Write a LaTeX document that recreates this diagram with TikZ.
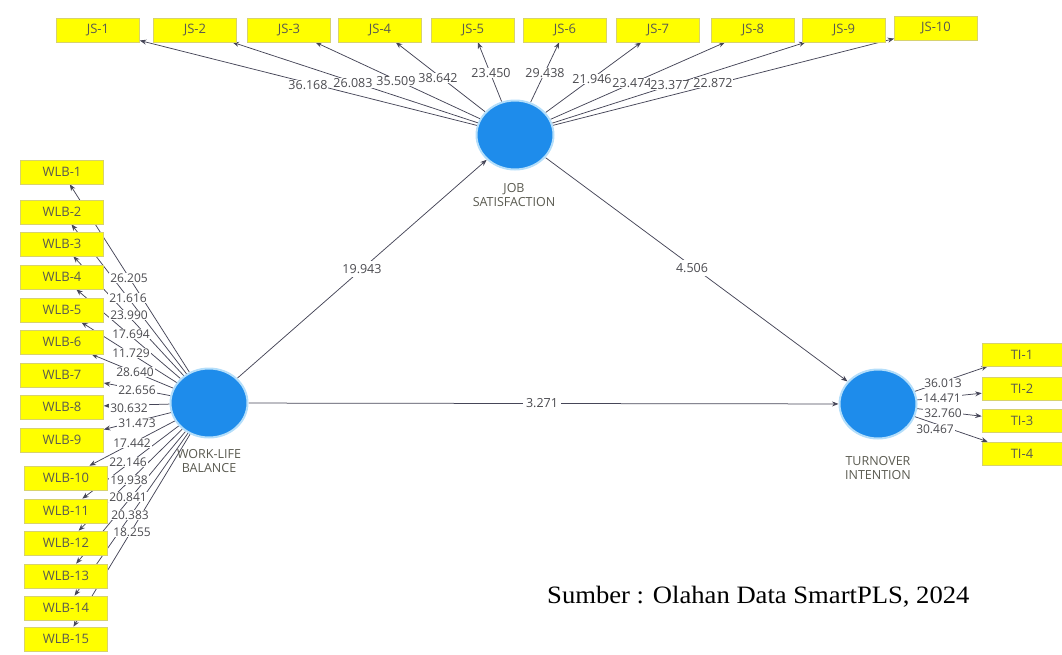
\documentclass[tikz,border=0pt]{standalone}
\usepackage{fontspec}
\usepackage{graphicx}
\setmainfont{Open Sans}
\newfontfamily\capfont{Liberation Serif}
\usetikzlibrary{shapes.geometric,arrows.meta}

\definecolor{lvblue}{RGB}{30,140,235}
\definecolor{lvglow}{RGB}{180,222,250}
\definecolor{indfill}{RGB}{255,255,0}
\definecolor{indedge}{RGB}{215,210,110}
\definecolor{indtext}{RGB}{90,90,80}
\definecolor{edgecol}{RGB}{70,70,88}
\definecolor{numtext}{RGB}{75,75,80}

\pgfdeclarelayer{lines}
\pgfsetlayers{lines,main}

\begin{document}
\begin{tikzpicture}[x=1pt,y=-1pt,
  ind/.style={rectangle, fill=indfill, draw=indedge, line width=0.6pt,
    minimum width=83pt, minimum height=24pt, inner sep=0pt, text=indtext,
    font=\fontsize{13}{15}\selectfont},
  lv/.style={ellipse, fill=lvblue, draw=lvglow, line width=2pt,
    minimum width=77pt, minimum height=69pt, inner sep=0pt},
  lvname/.style={align=center, text=indtext, inner sep=0pt,
    font=\fontsize{12.5}{14.5}\selectfont},
  load/.style={fill=white, inner sep=0.8pt, text=numtext,
    font=\fontsize{12}{12}\selectfont},
  topload/.style={load, font=\fontsize{12.5}{12.5}\selectfont},
  coef/.style={fill=white, inner sep=3pt, text=numtext,
    font=\fontsize{12.5}{12.5}\selectfont},
  arr/.style={draw=edgecol, line width=0.75pt, -{Stealth[length=6.5pt,width=5pt]}},
]
\useasboundingbox (0,0) rectangle (1062,654);

% latent variables
\node[lv] (jsat) at (515,135) {};
\node[lv] (wlb)  at (209,403) {};
\node[lv] (tint) at (878,404) {};
\node[lvname] (jsatname) at (514,195) {JOB\\SATISFACTION};
\node[lvname] (wlbname)  at (209,461) {WORK-LIFE\\BALANCE};
\node[lvname] (tintname) at (878,468) {TURNOVER\\INTENTION};

% job satisfaction indicators
\node[ind] (js1)  at (98,30)  {JS-1};
\node[ind] (js2)  at (195,30) {JS-2};
\node[ind] (js3)  at (289,30) {JS-3};
\node[ind] (js4)  at (380,30) {JS-4};
\node[ind] (js5)  at (473,30) {JS-5};
\node[ind] (js6)  at (565,30) {JS-6};
\node[ind] (js7)  at (658,30) {JS-7};
\node[ind] (js8)  at (753,30) {JS-8};
\node[ind] (js9)  at (844,30) {JS-9};
\node[ind] (js10) at (936,28) {JS-10};

% work-life balance indicators
\node[ind] (w1)  at (62,172) {WLB-1};
\node[ind] (w2)  at (62,212) {WLB-2};
\node[ind] (w3)  at (62,244) {WLB-3};
\node[ind] (w4)  at (62,277) {WLB-4};
\node[ind] (w5)  at (62,310) {WLB-5};
\node[ind] (w6)  at (62,342) {WLB-6};
\node[ind] (w7)  at (62,375) {WLB-7};
\node[ind] (w8)  at (62,407) {WLB-8};
\node[ind] (w9)  at (62,440) {WLB-9};
\node[ind] (w10) at (66,478) {WLB-10};
\node[ind] (w11) at (66,511) {WLB-11};
\node[ind] (w12) at (66,543) {WLB-12};
\node[ind] (w13) at (66,576) {WLB-13};
\node[ind] (w14) at (66,608) {WLB-14};
\node[ind] (w15) at (66,639) {WLB-15};

% turnover intention indicators
\node[ind, minimum width=80pt, minimum height=23pt] (t1) at (1022,354.5) {TI-1};
\node[ind, minimum width=80pt, minimum height=23pt] (t2) at (1022,389)   {TI-2};
\node[ind, minimum width=80pt, minimum height=23pt] (t3) at (1022,421)   {TI-3};
\node[ind, minimum width=80pt, minimum height=23pt] (t4) at (1022,453.5) {TI-4};

% connectors, kept beneath the boxes and labels
\begin{pgfonlayer}{lines}
  \foreach \i in {js1,js2,js3,js4,js5,js6,js7,js8,js9,js10}
    \draw[arr] (jsat) -- (\i);
  \foreach \i in {w1,w2,w3,w4,w5,w6,w7,w8,w9,w10,w11,w12,w13,w14,w15}
    \draw[arr] (wlb) -- (\i);
  \foreach \i in {t1,t2,t3,t4}
    \draw[arr] (tint) -- (\i);
  \draw[arr] (wlb) -- (jsat);
  \draw[arr] (jsat) -- (tint);
  \draw[arr] (wlb) -- (tint);
\end{pgfonlayer}

% outer loadings of job satisfaction
\node[topload] (lj1)  at (308,85) {36.168};
\node[topload] (lj2)  at (353,83) {26.083};
\node[topload] (lj3)  at (396,81) {35.509};
\node[topload] (lj4)  at (438,78) {38.642};
\node[topload] (lj5)  at (491,73) {23.450};
\node[topload] (lj6)  at (545,73) {29.438};
\node[topload] (lj7)  at (592,79) {21.946};
\node[topload] (lj8)  at (632,83) {23.474};
\node[topload] (lj9)  at (670,85) {23.377};
\node[topload] (lj10) at (713,83) {22.872};

% outer loadings of work-life balance
\node[load] (lw1)  at (129,278) {26.205};
\node[load] (lw2)  at (128,298) {21.616};
\node[load] (lw3)  at (129,315) {23.990};
\node[load] (lw4)  at (131,334) {17.694};
\node[load] (lw5)  at (131,353) {11.729};
\node[load] (lw6)  at (135,372) {28.640};
\node[load] (lw7)  at (137,390) {22.656};
\node[load] (lw8)  at (129,408) {30.632};
\node[load] (lw9)  at (137,423) {31.473};
\node[load] (lw10) at (132,443) {17.442};
\node[load] (lw11) at (128,462) {22.146};
\node[load] (lw12) at (129,480) {19.938};
\node[load] (lw13) at (128,497) {20.841};
\node[load] (lw14) at (130,515) {20.383};
\node[load] (lw15) at (132,532) {18.255};

% outer loadings of turnover intention
\node[load] (lt1) at (943,383) {36.013};
\node[load] (lt2) at (942,398) {14.471};
\node[load] (lt3) at (943,413) {32.760};
\node[load] (lt4) at (935,429) {30.467};

% path coefficients
\node[coef] (c1) at (362,269) {19.943};
\node[coef] (c2) at (692,268) {4.506};
\node[coef] (c3) at (542,403) {3.271};

% source note
\node[anchor=base west, inner sep=0pt] (src) at (547,603)
  {\capfont\fontsize{25}{30}\selectfont\scalebox{1.065}[1]{Sumber : Olahan Data SmartPLS, 2024}};
\end{tikzpicture}
\end{document}
